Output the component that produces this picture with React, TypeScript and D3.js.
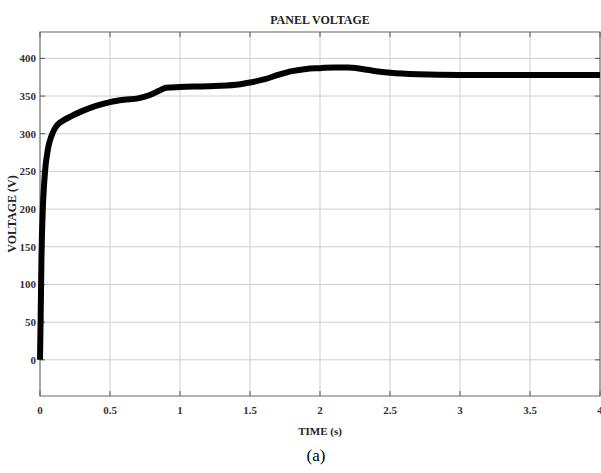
import React, { useMemo } from "react";
import * as d3 from "d3";

const WIDTH = 601;
const HEIGHT = 473;
const M = { left: 40, right: 1, top: 32, bottom: 77 };

const title = "PANEL VOLTAGE";
const xLabel = "TIME (s)";
const yLabel = "VOLTAGE (V)";
const caption = "(a)";

const xTicks = [0, 0.5, 1, 1.5, 2, 2.5, 3, 3.5, 4];
const yTicks = [0, 50, 100, 150, 200, 250, 300, 350, 400];

// time (s) / panel voltage (V)
const time = [
  0, 0.005, 0.01, 0.02, 0.03, 0.04, 0.05, 0.06, 0.08, 0.1, 0.13, 0.17, 0.22,
  0.3, 0.4, 0.5, 0.6, 0.7, 0.78, 0.85, 0.9, 1.0, 1.2, 1.4, 1.5, 1.6, 1.7, 1.8,
  1.9, 2.0, 2.1, 2.2, 2.3, 2.4, 2.5, 2.7, 3.0, 3.5, 4.0,
];
const voltage = [
  0, 60, 130, 200, 235, 258, 272, 283, 296, 305, 313, 318, 323, 330, 337, 342,
  345, 347, 351, 357, 361, 362, 363, 365, 368, 372, 378, 383, 386, 387, 388,
  388, 386, 383, 381, 379, 378, 378, 378,
];

const FONT = "'Liberation Serif', 'Times New Roman', serif";

export default function App() {
  const x = useMemo(
    () => d3.scaleLinear().domain([0, 4]).range([M.left, WIDTH - M.right]),
    []
  );
  const y = useMemo(
    () => d3.scaleLinear().domain([-48, 435]).range([HEIGHT - M.bottom, M.top]),
    []
  );

  const path = useMemo(() => {
    const line = d3
      .line<number>()
      .x((_, i) => x(time[i]))
      .y((d) => y(d))
      .curve(d3.curveMonotoneX);
    return line(voltage) || "";
  }, [x, y]);

  const [x0, x1] = x.range();
  const [y0, y1] = y.range();

  return (
    <svg
      width={WIDTH}
      height={HEIGHT}
      style={{ position: "absolute", left: 0, top: 0, background: "#fff" }}
      fontFamily={FONT}
    >
      {/* grid */}
      {xTicks.map((t) => (
        <line key={"gx" + t} x1={x(t)} x2={x(t)} y1={y1} y2={y0} stroke="#cfcfcf" strokeWidth={1} />
      ))}
      {yTicks.map((t) => (
        <line key={"gy" + t} x1={x0} x2={x1} y1={y(t)} y2={y(t)} stroke="#cfcfcf" strokeWidth={1} />
      ))}

      {/* ticks */}
      {xTicks.map((t) => (
        <g key={"tx" + t}>
          <line x1={x(t)} x2={x(t)} y1={y0} y2={y0 - 5} stroke="#555" />
          <line x1={x(t)} x2={x(t)} y1={y1} y2={y1 + 5} stroke="#555" />
          <text x={x(t)} y={y0 + 18} textAnchor="middle" fontSize={11} fontWeight="bold" fill="#333">
            {t}
          </text>
        </g>
      ))}
      {yTicks.map((t) => (
        <g key={"ty" + t}>
          <line x1={x0} x2={x0 + 5} y1={y(t)} y2={y(t)} stroke="#555" />
          <line x1={x1} x2={x1 - 5} y1={y(t)} y2={y(t)} stroke="#555" />
          <text x={x0 - 4} y={y(t) + 4} textAnchor="end" fontSize={11} fontWeight="bold" fill="#333">
            {t}
          </text>
        </g>
      ))}

      {/* box */}
      <rect x={x0} y={y1} width={x1 - x0} height={y0 - y1} fill="none" stroke="#666" strokeWidth={1} />

      {/* series */}
      <path d={path} fill="none" stroke="#000" strokeWidth={6} strokeLinejoin="round" strokeLinecap="butt" />

      {/* labels */}
      <text x={(x0 + x1) / 2} y={24} textAnchor="middle" fontSize={12} fontWeight="bold" fill="#222">
        {title}
      </text>
      <text x={(x0 + x1) / 2} y={435} textAnchor="middle" fontSize={11} fontWeight="bold" fill="#222">
        {xLabel}
      </text>
      <text
        transform={`translate(16, ${(y0 + y1) / 2}) rotate(-90)`}
        textAnchor="middle"
        fontSize={12}
        fontWeight="bold"
        fill="#222"
      >
        {yLabel}
      </text>
      <text x={316} y={461} textAnchor="middle" fontSize={17} fill="#000">
        {caption}
      </text>
    </svg>
  );
}
